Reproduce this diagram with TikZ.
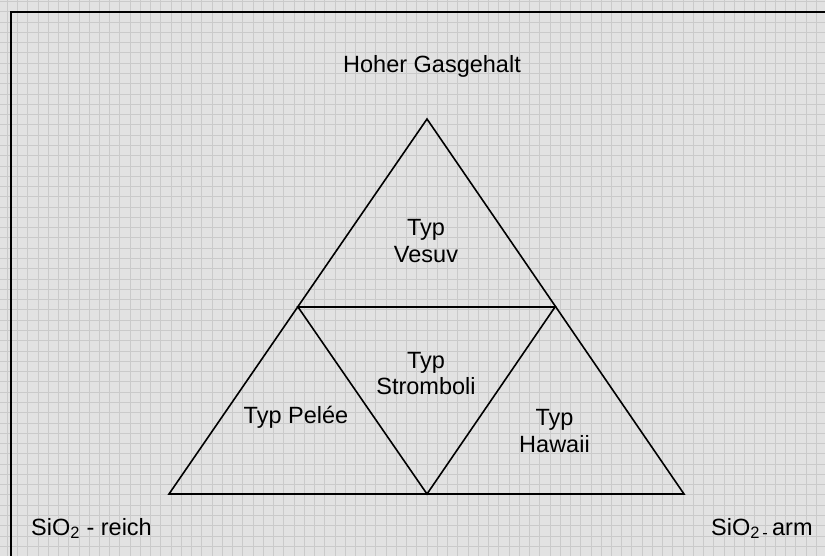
\documentclass[tikz,border=0pt]{standalone}
\usepackage{fontspec}
\setmainfont{Liberation Sans}
\definecolor{bgcol}{RGB}{226,226,226}
\definecolor{gridcol}{RGB}{202,202,202}
\begin{document}
\begin{tikzpicture}[x=1pt,y=-1pt,
  lbl/.style={font=\fontsize{23.5}{27}\selectfont, inner sep=0pt, text=black, align=center},
  tri/.style={draw=black, line width=1.6pt, line join=miter},
  gridline/.style={draw=gridcol, line width=0.9pt},
  frameline/.style={draw=black, line width=2pt}]
\useasboundingbox (0,0) rectangle (825,556);
\fill[bgcol] (0,0) rectangle (825,556);
\foreach \i in {0,...,80} {\path[gridline] ({7.3+10.24*\i},0) -- ({7.3+10.24*\i},556);}
\foreach \j in {0,...,54} {\path[gridline] (0,{1.5+10.28*\j}) -- (825,{1.5+10.28*\j});}
\path[frameline] (11,557) -- (11,12) -- (826,12);
% triangle vertices
\coordinate (A) at (427,119);
\coordinate (L) at (169,494);
\coordinate (R) at (684,494);
\coordinate (ML) at (298,307);
\coordinate (MR) at (555,307);
\coordinate (MB) at (427,494);
\path[tri] (A) -- (L) -- (R) -- cycle;
\path[tri] (ML) -- (MR) -- (MB) -- cycle;
% labels
\node[lbl, anchor=base] (gas) at (432,73) {Hoher Gasgehalt};
\node[lbl, anchor=base] (ves1) at (426,236) {Typ};
\node[lbl, anchor=base] (ves2) at (426,263) {Vesuv};
\node[lbl, anchor=base] (str1) at (426,368) {Typ};
\node[lbl, anchor=base] (str2) at (426,394) {Stromboli};
\node[lbl, anchor=base] (pel) at (296,423) {Typ Pel\'ee};
\node[lbl, anchor=base] (haw1) at (554.5,425) {Typ};
\node[lbl, anchor=base] (haw2) at (554.5,452) {Hawaii};
\node[lbl, anchor=base west] (reich) at (31,535) {SiO\textsubscript{2} - reich};
\node[lbl, anchor=base west] (arm) at (711,535) {SiO\textsubscript{2\,-}\,arm};
\end{tikzpicture}
\end{document}
